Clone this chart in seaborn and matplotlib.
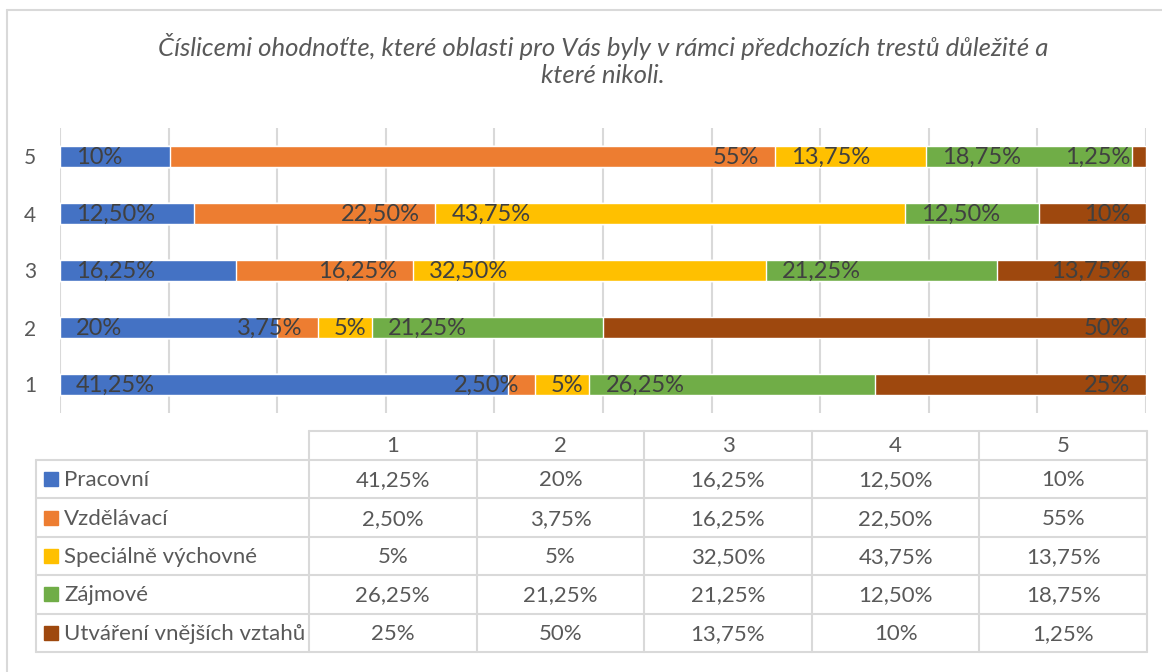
import numpy as np
import pandas as pd
import seaborn as sns
import matplotlib.pyplot as plt

# ==========================================
# DATA
# ==========================================

TITLE = ("Číslicemi ohodnoťte, které oblasti pro Vás byly v rámci předchozích trestů důležité a\n"
         "které nikoli.")

CATEGORIES = ["1", "2", "3", "4", "5"]
SERIES = ["Pracovní", "Vzdělávací", "Speciálně výchovné", "Zájmové",
          "Utváření vnějších vztahů"]

PRACOVNI = [41.25, 20, 16.25, 12.5, 10]
VZDELAVACI = [2.5, 3.75, 16.25, 22.5, 55]
SPECIALNE = [5, 5, 32.5, 43.75, 13.75]
ZAJMOVE = [26.25, 21.25, 21.25, 12.5, 18.75]
VZTAHY = [25, 50, 13.75, 10, 1.25]

# ==========================================
# STYLE
# ==========================================

COLORS = ["#4472C4", "#ED7D31", "#FFC000", "#70AD47", "#9E480E"]
LABEL_SIDE = ["start", "end", "start", "start", "end"]
TEXT_GREY = "#595959"
LABEL_GREY = "#404040"
LINE_GREY = "#d9d9d9"
FONT = ["Lato", "DejaVu Sans"]

W, H = 1162, 672


def fmt(v):
    # Czech style: comma decimal, two places unless whole
    if float(v).is_integer():
        return f"{int(v)}%"
    return f"{v:.2f}%".replace(".", ",")


def build_frame():
    # 100% stacked: every row is scaled to its own total
    values = np.array([PRACOVNI, VZDELAVACI, SPECIALNE, ZAJMOVE, VZTAHY],
                      dtype=float)
    shares = values / values.sum(axis=0) * 100
    ends = np.cumsum(shares, axis=0)
    rows = []
    for i, name in enumerate(SERIES):
        for j, cat in enumerate(CATEGORIES):
            rows.append({"Series": name, "Kategorie": cat,
                         "Value": values[i, j], "Share": shares[i, j],
                         "End": ends[i, j]})
    return pd.DataFrame(rows)


def main():
    sns.set_theme(style="white")
    plt.rcParams["font.family"] = FONT

    df = build_frame()
    order = CATEGORIES[::-1]  # 5 on top

    fig = plt.figure(figsize=(W / 100, H / 100), dpi=100)
    ax = fig.add_axes([60 / W, 1 - 413 / H, 1086 / W, 285 / H])

    # stacked bars: draw cumulative ends from last series to first
    for i in reversed(range(len(SERIES))):
        sub = df[df["Series"] == SERIES[i]]
        sns.barplot(data=sub, y="Kategorie", x="End", order=order,
                    orient="h", color=COLORS[i], saturation=1,
                    width=0.38, errorbar=None, ax=ax, zorder=2)

    # data labels
    for i, name in enumerate(SERIES):
        sub = df[df["Series"] == name]
        for _, r in sub.iterrows():
            pos = order.index(r["Kategorie"])
            if LABEL_SIDE[i] == "start":
                xy, off, ha = (r["End"] - r["Share"], pos), 11.5, "left"
            else:
                xy, off, ha = (r["End"], pos), -11.5, "right"
            ax.annotate(fmt(r["Value"]), xy=xy, xytext=(off, -0.5),
                        textcoords="offset points", ha=ha, va="center",
                        fontsize=17, color=LABEL_GREY, zorder=5)

    ax.set_xlim(0, 100)
    ax.set_ylim(4.5, -0.5)
    ax.set_xticks(np.arange(0, 101, 10))
    ax.set_xticklabels([])
    ax.grid(axis="x", color=LINE_GREY, linewidth=1.5)
    ax.set_axisbelow(True)
    ax.set_xlabel("")
    ax.set_ylabel("")
    ax.tick_params(axis="both", length=0)
    ax.tick_params(axis="y", pad=17, labelsize=15, labelcolor=TEXT_GREY)
    for s in ax.spines.values():
        s.set_visible(False)

    # overlay in pixel coordinates: frame, title, data table
    ov = fig.add_axes([0, 0, 1, 1], zorder=-1)
    ov.set_xlim(0, W)
    ov.set_ylim(H, 0)
    ov.axis("off")

    ov.plot([7, W], [10, 10], color=LINE_GREY, lw=1.5)
    ov.plot([7, 7], [10, H], color=LINE_GREY, lw=1.5)

    ov.text(603, 60, TITLE, ha="center", va="center", fontsize=18.5,
            style="italic", color=TEXT_GREY, linespacing=1.2)

    # table geometry
    lab_x0, data_x0, data_x1 = 36, 309, 1147
    head_y0, head_y1, tab_y1 = 431, 460, 652
    ncol = len(CATEGORIES)
    col_edges = np.linspace(data_x0, data_x1, ncol + 1)
    row_edges = np.linspace(head_y1, tab_y1, len(SERIES) + 1)
    lw = 1.5

    # horizontal lines
    ov.plot([data_x0, data_x1], [head_y0, head_y0], color=LINE_GREY, lw=lw)
    for y in row_edges:
        ov.plot([lab_x0, data_x1], [y, y], color=LINE_GREY, lw=lw)
    # vertical lines
    ov.plot([lab_x0, lab_x0], [head_y1, tab_y1], color=LINE_GREY, lw=lw)
    for x in col_edges:
        ov.plot([x, x], [head_y0, tab_y1], color=LINE_GREY, lw=lw)

    for k, cat in enumerate(CATEGORIES):
        cx = (col_edges[k] + col_edges[k + 1]) / 2
        ov.text(cx, (head_y0 + head_y1) / 2 + 1, cat, ha="center",
                va="center", fontsize=16, color=TEXT_GREY)

    values = [PRACOVNI, VZDELAVACI, SPECIALNE, ZAJMOVE, VZTAHY]
    for i, name in enumerate(SERIES):
        cy = (row_edges[i] + row_edges[i + 1]) / 2
        ov.add_patch(plt.Rectangle((44, cy - 7), 14, 14, color=COLORS[i]))
        ov.text(64, cy + 1, name, ha="left", va="center", fontsize=16,
                color=TEXT_GREY)
        for k, v in enumerate(values[i]):
            cx = (col_edges[k] + col_edges[k + 1]) / 2
            ov.text(cx, cy + 1, fmt(v), ha="center", va="center",
                    fontsize=16, color=TEXT_GREY)

    fig.savefig("out.png", dpi=100, facecolor="white")


if __name__ == "__main__":
    main()
